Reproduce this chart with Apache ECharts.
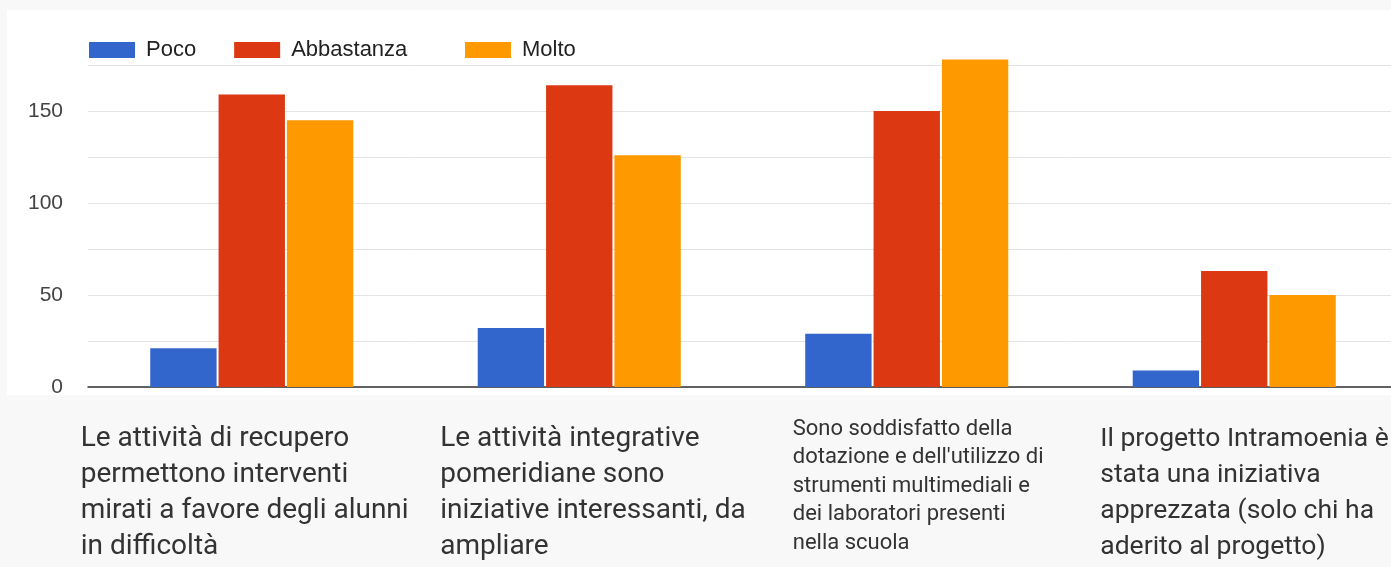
<!DOCTYPE html>
<html>
<head>
<meta charset="utf-8">
<script src="https://cdn.jsdelivr.net/npm/echarts@6/dist/echarts.min.js"></script>
<style>
  html, body { margin: 0; padding: 0; background: #f8f8f8; overflow: hidden; }
  #panel { position: absolute; left: 7px; top: 10px; width: 1384px; height: 385px; background: #fff; }
  #chart { position: absolute; left: 0; top: 0; width: 1398px; height: 567px; }
</style>
</head>
<body>
<div id="panel"></div>
<div id="chart"></div>
<script>
// domande (categorie)
var categories = [
  'Le attività di recupero\npermettono interventi\nmirati a favore degli alunni\nin difficoltà',
  'Le attività integrative\npomeridiane sono\niniziative interessanti, da\nampliare',
  'Sono soddisfatto della\ndotazione e dell\'utilizzo di\nstrumenti multimediali e\ndei laboratori presenti\nnella scuola',
  'Il progetto Intramoenia è\nstata una iniziativa\napprezzata (solo chi ha\naderito al progetto)'
]
var seriesNames = ['Poco', 'Abbastanza', 'Molto']
var poco = [21, 32, 29, 9]
var abbastanza = [159, 164, 150, 63]
var molto = [145, 126, 178, 50]
var yTicks = [0, 50, 100, 150]

var colors = ['#3366cc', '#dc3912', '#ff9900']
// one rich style per category label (block width differs)
var labelStyles = ['c0', 'c1', 'c2', 'c3']

// plot runs a little past the right edge of the window, like the original
var chart = echarts.init(document.getElementById('chart'), null, { width: 1398, height: 567 })

var bigLabel = { align: 'left', fontFamily: 'Roboto', fontSize: 28, lineHeight: 36, color: '#333' }

// two legend blocks so that "Molto" sits where it does in the original
function legendBlock(left, names) {
  return {
    left: left,
    top: 39,
    padding: 0,
    itemWidth: 46,
    itemHeight: 16,
    itemGap: 38,
    icon: 'rect',
    data: names,
    textStyle: {
      fontFamily: 'Liberation Sans',
      fontSize: 22,
      color: '#222',
      padding: [0, 0, 0, 6]
    }
  }
}

chart.setOption({
  animation: false,
  color: colors,
  legend: [
    legendBlock(89, seriesNames.slice(0, 2)),
    legendBlock(465, seriesNames.slice(2))
  ],
  grid: {
    left: 88,
    right: 0,
    top: 19,
    bottom: 180,
    outerBoundsMode: 'none',
    containLabel: false
  },
  xAxis: {
    type: 'category',
    data: categories,
    axisTick: { show: false },
    axisLine: { lineStyle: { color: '#333', width: 1.5 } },
    axisLabel: {
      interval: 0,
      margin: 28,
      align: 'center',
      verticalAlign: 'top',
      formatter: function (value, idx) {
        var s = value.split('\n').map(function (l) {
          return '{' + labelStyles[idx] + '|' + l + '}'
        }).join('\n')
        return idx === 2 ? s : '{gap|}\n' + s
      },
      rich: {
        gap: { lineHeight: 6, fontSize: 1 },
        c0: Object.assign({ width: 342 }, bigLabel),
        c1: Object.assign({ width: 278 }, bigLabel),
        c2: { width: 228, align: 'left', fontFamily: 'Roboto', fontSize: 22, lineHeight: 28.5, color: '#333' },
        c3: Object.assign({}, bigLabel, { width: 268, fontSize: 26.5 })
      }
    }
  },
  yAxis: {
    type: 'value',
    min: 0,
    max: 200,
    interval: 25,
    axisLine: { show: false },
    axisTick: { show: false },
    splitLine: {
      lineStyle: {
        color: ['#e3e3e3', '#e3e3e3', '#e3e3e3', '#e3e3e3', '#e3e3e3', '#e3e3e3', '#e3e3e3', '#e3e3e3', 'rgba(0,0,0,0)']
      }
    },
    axisLabel: {
      margin: 25,
      fontFamily: 'Liberation Sans',
      fontSize: 21,
      color: '#444',
      formatter: function (v) {
        return yTicks.indexOf(v) >= 0 ? String(v) : ''
      }
    }
  },
  series: [
    { name: seriesNames[0], type: 'bar', data: poco, barGap: '3%', barCategoryGap: '38%' },
    { name: seriesNames[1], type: 'bar', data: abbastanza },
    { name: seriesNames[2], type: 'bar', data: molto }
  ]
})
</script>
</body>
</html>
